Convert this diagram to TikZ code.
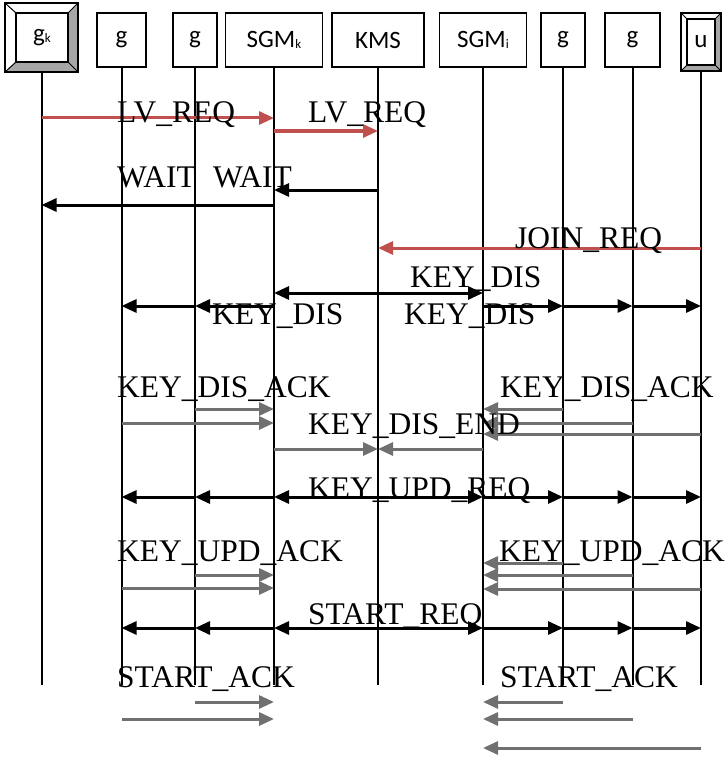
\documentclass[tikz,border=0pt]{standalone}
\usepackage{fontspec}
\setmainfont{Liberation Serif}
\newfontfamily\boxfont{Carlito}
\usetikzlibrary{arrows.meta}
\definecolor{lvred}{RGB}{192,80,77}
\definecolor{ackgray}{RGB}{112,112,112}
\definecolor{bevelgray}{RGB}{166,166,166}
\newcommand{\lowsub}[1]{\raisebox{-1pt}{\fontsize{13}{13}\selectfont #1}}

\begin{document}
\begin{tikzpicture}[x=1pt, y=-1pt,
  box/.style={draw, line width=1.8pt, outer sep=0pt, inner sep=0pt, minimum height=54pt, font=\boxfont\fontsize{25}{25}\selectfont},
  life/.style={line width=2pt},
  msg/.style={line width=3pt, -{Triangle[length=15pt,width=13pt]}},
  lv/.style={msg, lvred},
  ack/.style={msg, ackgray},
  lbl/.style={anchor=base west, inner sep=0pt, font=\fontsize{31.5}{32}\selectfont}]
\useasboundingbox (0,0) rectangle (726,757);

% participants
\node[box, minimum width=73pt, minimum height=69pt] (gk) at (41.5,37.5) {};
\node[box, minimum width=52pt, minimum height=49pt] (gkin) at (42,37.5) {g\lowsub{k}};
\node[box, minimum width=49pt] (ga) at (121.5,40) {g};
\node[box, minimum width=44pt] (gb) at (195,40) {g};
\node[box, minimum width=97pt] (sgmk) at (274,40) {SGM\lowsub{k}};
\node[box, minimum width=92pt] (kms) at (378,40) {KMS};
\node[box, minimum width=87pt] (sgmi) at (483,40) {SGM\lowsub{i}};
\node[box, minimum width=44pt] (gc) at (563,40) {g};
\node[box, minimum width=55pt] (gd) at (632.5,40) {g};
\node[box, minimum width=40pt, minimum height=58pt] (u) at (701,42) {};
\node[box, minimum width=28pt, minimum height=46pt] (uin) at (701,42) {u};

% bevels
\foreach \o/\i in {gk/gkin, u/uin} {
  \fill[bevelgray] (\o.south west) -- (\o.south east) -- (\o.north east) -- (\i.north east) -- (\i.south east) -- (\i.south west) -- cycle;
  \draw[line width=1.8pt] (\o.north west) rectangle (\o.south east) (\i.north west) rectangle (\i.south east);
  \draw[line width=1pt] (\o.north west) -- (\i.north west) (\o.north east) -- (\i.north east)
    (\o.south west) -- (\i.south west) (\o.south east) -- (\i.south east);
}

% lifelines
\foreach \p in {gk, ga, gb, sgmk, kms, sgmi, gc, gd, u}
  \draw[life] (\p.south) -- (\p |- 0,685);

% leave
\draw[lv] (gk |- 0,118) -- (sgmk |- 0,118);
\draw[lv] (sgmk |- 0,131) -- (kms |- 0,131);
\node[lbl] (lvreqa) at (117,123) {LV\_REQ};
\node[lbl] (lvreqb) at (308,123) {LV\_REQ};
\draw[msg] (kms |- 0,190) -- (sgmk |- 0,190);
\draw[msg] (sgmk |- 0,205) -- (gk |- 0,205);
\node[lbl] (waita) at (117,187) {WAIT};
\node[lbl] (waitb) at (213,187) {WAIT};

% join
\draw[lv] (u |- 0,248) -- (kms |- 0,248);
\node[lbl] (joinreq) at (515,248) {JOIN\_REQ};

% key distribution
\foreach \a/\b/\y in {kms/sgmk/293, kms/sgmi/293, sgmk/gb/306, gb/ga/306, sgmi/gc/306, gc/gd/306, gd/u/306,
  kms/sgmk/497, kms/sgmi/497, sgmk/gb/497, gb/ga/497, sgmi/gc/497, gc/gd/497, gd/u/497,
  kms/sgmk/628, kms/sgmi/628, sgmk/gb/628, gb/ga/628, sgmi/gc/628, gc/gd/628, gd/u/628}
  \draw[msg] (\a |- 0,\y) -- (\b |- 0,\y);
\node[lbl] (keydisa) at (410,287) {KEY\_DIS};
\node[lbl] (keydisb) at (212,324) {KEY\_DIS};
\node[lbl] (keydisc) at (404,324) {KEY\_DIS};

% acknowledgements
\foreach \a/\b/\y in {gb/sgmk/409, ga/sgmk/423, gc/sgmi/409, gd/sgmi/423, u/sgmi/434,
  sgmk/kms/449, sgmi/kms/449,
  gb/sgmk/575, ga/sgmk/588, gc/sgmi/563, gd/sgmi/575, u/sgmi/589,
  gb/sgmk/702, ga/sgmk/719, gc/sgmi/702, gd/sgmi/719, u/sgmi/748}
  \draw[ack] (\a |- 0,\y) -- (\b |- 0,\y);
\node[lbl] (disacka) at (117,397) {KEY\_DIS\_ACK};
\node[lbl] (disackb) at (500,397) {KEY\_DIS\_ACK};
\node[lbl] (disend) at (308,434) {KEY\_DIS\_END};
\node[lbl] (updreq) at (308,498) {KEY\_UPD\_REQ};
\node[lbl] (updacka) at (117,561) {KEY\_UPD\_ACK};
\node[lbl] (updackb) at (499,561) {KEY\_UPD\_ACK};
\node[lbl] (startreq) at (308,624) {START\_REQ};
\node[lbl] (startacka) at (117,687) {START\_ACK};
\node[lbl] (startackb) at (500,687) {START\_ACK};
\end{tikzpicture}
\end{document}
